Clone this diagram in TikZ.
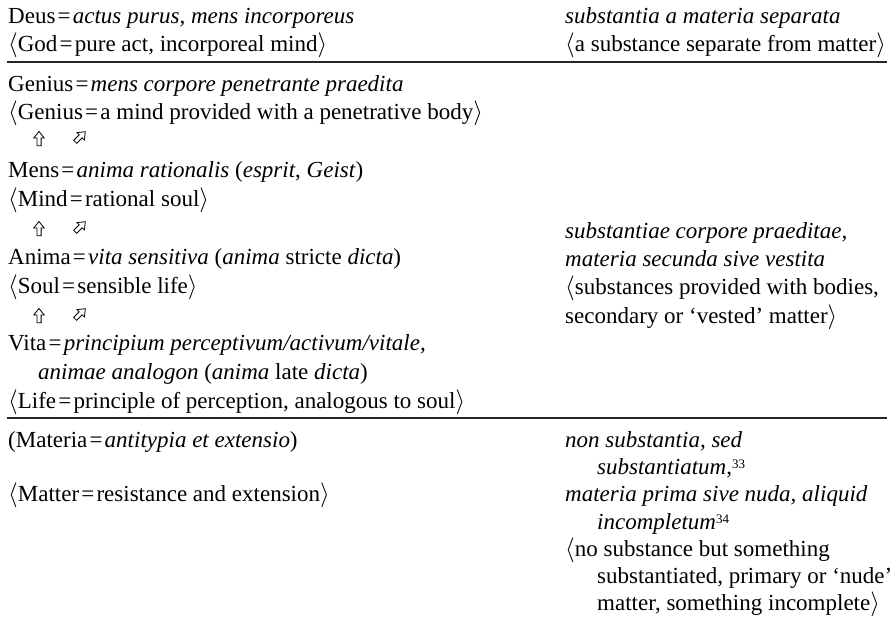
\documentclass[tikz,border=0pt]{standalone}
\usepackage{fontspec}
\setmainfont{Liberation Serif}
\newcommand\eq{\kern2.2pt=\kern2.2pt}
\newcommand\lan{\ensuremath{\langle}}
\newcommand\ran{\ensuremath{\rangle}}
\newcommand\fnm[1]{\raisebox{0.55ex}{\fontsize{13}{13}\selectfont #1}}
\tikzset{
  txt/.style={anchor=base west, inner sep=0pt, font=\fontsize{23}{28}\selectfont},
  rulel/.style={line width=1.1pt, draw=black!85},
  whitearrow/.pic={\draw[line width=0.8pt, fill=white, line join=miter]
     (0,-7.5) -- (5.2,-1) -- (2.1,-1) -- (2.1,6.8) -- (-2.1,6.8) -- (-2.1,-1) -- (-5.2,-1) -- cycle;}
}
\begin{document}
\begin{tikzpicture}[x=1pt,y=-1pt]
\useasboundingbox (0,0) rectangle (893,618);
% left column
\node[txt] (deus)   at (8,24)  {Deus\eq\textit{actus purus, mens incorporeus}};
\node[txt] (god)    at (8,52)  {\lan God\eq pure act, incorporeal mind\ran};
\node[txt] (genius) at (8,91)  {Genius\eq\textit{mens corpore penetrante praedita}};
\node[txt] (geniusE) at (8,119) {\lan Genius\eq a mind provided with a penetrative body\ran};
\node[txt] (mens)   at (8,177) {Mens\eq\textit{anima rationalis} (\textit{esprit}, \textit{Geist})};
\node[txt] (mind)   at (8,206) {\lan Mind\eq rational soul\ran};
\node[txt] (anima)  at (8,264) {Anima\eq\textit{vita sensitiva} (\textit{anima} stricte \textit{dicta})};
\node[txt] (soul)   at (8,293) {\lan Soul\eq sensible life\ran};
\node[txt] (vita)   at (8,350) {Vita\eq\textit{principium perceptivum/activum/vitale,}};
\node[txt] (vita2)  at (38,379) {\textit{animae analogon} (\textit{anima} late \textit{dicta})};
\node[txt] (life)   at (8,408) {\lan Life\eq principle of perception, analogous to soul\ran};
\node[txt] (materia) at (8,447) {(Materia\eq\textit{antitypia et extensio})};
\node[txt] (matter) at (8,501) {\lan Matter\eq resistance and extension\ran};
% right column
\node[txt] (r1)  at (565,24)  {\textit{substantia a materia separata}};
\node[txt] (r2)  at (565,52)  {\lan a substance separate from matter\ran};
\node[txt] (r3)  at (565,238) {\textit{substantiae corpore praeditae,}};
\node[txt] (r4)  at (565,266) {\textit{materia secunda sive vestita}};
\node[txt] (r5)  at (565,294) {\lan substances provided with bodies,};
\node[txt] (r6)  at (565,323) {secondary or ‘vested’ matter\ran};
\node[txt] (r7)  at (565,447) {\textit{non substantia, sed}};
\node[txt] (r8)  at (597,474) {\textit{substantiatum},\fnm{33}};
\node[txt] (r9)  at (565,501) {\textit{materia prima sive nuda, aliquid}};
\node[txt] (r10) at (597,529) {\textit{incompletum}\fnm{34}};
\node[txt] (r11) at (565,556) {\lan no substance but something};
\node[txt] (r12) at (597,583) {substantiated, primary or ‘nude’};
\node[txt] (r13) at (597,610) {matter, something incomplete\ran};
% rules
\coordinate (ra1) at (7,62);  \coordinate (rb1) at (887,62);
\coordinate (ra2) at (7,418); \coordinate (rb2) at (887,418);
\draw[rulel] (ra1) -- (rb1);
\draw[rulel] (ra2) -- (rb2);
% arrows
\pic at (39,139) {whitearrow};
\pic[rotate=-45] at (80,137) {whitearrow};
\pic at (39,229) {whitearrow};
\pic[rotate=-45] at (80,227) {whitearrow};
\pic at (39,316) {whitearrow};
\pic[rotate=-45] at (80,314) {whitearrow};
\end{tikzpicture}
\end{document}
